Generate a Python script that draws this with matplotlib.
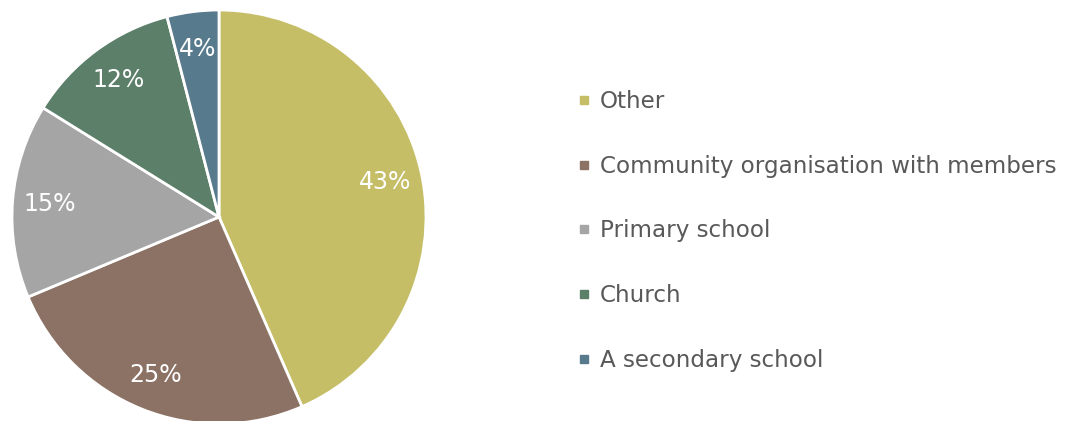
import matplotlib
matplotlib.use('Agg')
import matplotlib.pyplot as plt
from matplotlib.lines import Line2D

# 데이터
labels = ['Other', 'Community organisation with members', 'Primary school', 'Church', 'A secondary school']
values = [43, 25, 15, 12, 4]
colors = ['#C5BE67', '#8B7265', '#A5A5A5', '#5C7F6A', '#587A8D']

fig = plt.figure(figsize=(10.66, 4.21), dpi=100)

# 파이 영역 (중심 219,217 px / 반지름 207 px)
W, H = 1066, 421
cx, cy, r = 219, 217, 207
ax = fig.add_axes([(cx - r) / W, (H - cy - r) / H, 2 * r / W, 2 * r / H])

wedges, texts = ax.pie(
    values, colors=colors, startangle=90, counterclock=False,
    labels=[f'{v}%' for v in values], labeldistance=0.82,
    wedgeprops=dict(edgecolor='white', linewidth=2),
    textprops=dict(color='white', fontsize=17, ha='center', va='center'),
)
ax.set_xlim(-1, 1)
ax.set_ylim(-1, 1)
ax.set_aspect('equal')
ax.axis('off')
for w in wedges:
    w.set_clip_on(False)

# 범례
handles = [Line2D([], [], marker='s', linestyle='none', markersize=6,
                  markerfacecolor=c, markeredgecolor=c) for c in colors]
leg = fig.legend(handles, labels, loc='upper left', bbox_to_anchor=(577 / W, 1 - 90 / H),
                 frameon=False, fontsize=16.6, labelspacing=1.81, handlelength=0.6,
                 handletextpad=0.4, borderpad=0, borderaxespad=0)
for t in leg.get_texts():
    t.set_color('#595959')

fig.savefig('out.png', dpi=100)
